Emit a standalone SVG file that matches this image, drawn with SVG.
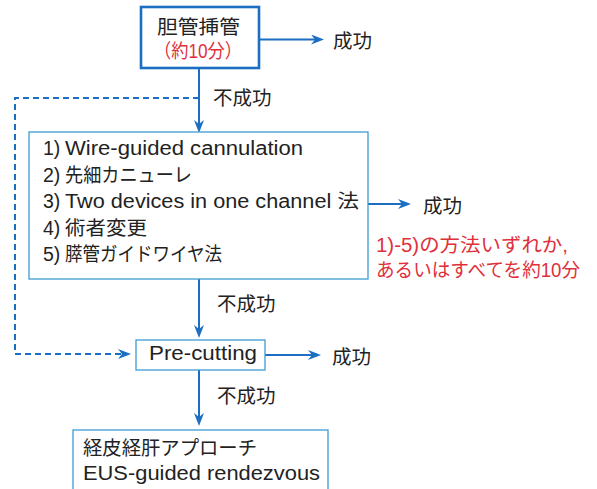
<svg xmlns="http://www.w3.org/2000/svg" width="597" height="489" viewBox="0 0 597 489">
<style>
.t{font-family:"Liberation Sans","Noto Sans CJK JP",sans-serif;fill:#222;font-size:19.5px}
.r{fill:#e0303c}
.box{fill:#fff;stroke:#3d9bd3;stroke-width:1.3}
.main{fill:#fff;stroke:#1b6ec2;stroke-width:2.6}
.ln{fill:none;stroke:#1b6ec2;stroke-width:2}
.dash{fill:none;stroke:#1b6ec2;stroke-width:2;stroke-dasharray:6 4}
</style>
<defs>
<marker id="ah" markerUnits="userSpaceOnUse" markerWidth="14" markerHeight="12" refX="8" refY="5" orient="auto">
<path d="M0,0 L13,5 L0,10 L4,5 Z" fill="#1b6ec2"/>
</marker>
</defs>
<rect width="597" height="489" fill="#fff"/>
<g id="connectors">
<path class="ln" d="M259,39.5 H319" marker-end="url(#ah)"/>
<path class="ln" d="M199,68 V128" marker-end="url(#ah)"/>
<path class="dash" d="M199,98 H15 V354 H126" marker-end="url(#ah)"/>
<path class="ln" d="M368,204 H406" marker-end="url(#ah)"/>
<path class="ln" d="M199,279 V333" marker-end="url(#ah)"/>
<path class="ln" d="M265,355 H316" marker-end="url(#ah)"/>
<path class="ln" d="M199,370 V421" marker-end="url(#ah)"/>
</g>
<g id="labels">
<text class="t" x="333" y="48" font-size="21">成功</text>
<text class="t" x="213" y="105" font-size="20">不成功</text>
<text class="t" x="423" y="213" font-size="21">成功</text>
<text class="t" x="217" y="311" font-size="20">不成功</text>
<text class="t" x="332" y="364" font-size="21">成功</text>
<text class="t" x="217" y="403" font-size="20">不成功</text>
<text class="t r" x="376" y="252" textLength="192" lengthAdjust="spacingAndGlyphs">1)-5)の方法いずれか,</text>
<text class="t r" x="376" y="277" textLength="204" lengthAdjust="spacingAndGlyphs">あるいはすべてを約10分</text>
</g>
<g id="node-start">
<rect class="main" x="141" y="7" width="118" height="61"/>
<text class="t" x="157" y="34" font-size="20.5" textLength="83" lengthAdjust="spacingAndGlyphs">胆管挿管</text>
<text class="t r" x="154" y="58" textLength="88" lengthAdjust="spacingAndGlyphs">（約10分）</text>
</g>
<g id="node-methods">
<rect class="box" x="29" y="132" width="339" height="147"/>
<text class="t" x="43" y="155">1)<tspan x="65" textLength="238" lengthAdjust="spacingAndGlyphs">Wire-guided cannulation</tspan></text>
<text class="t" x="43" y="182">2)<tspan x="65" textLength="127" lengthAdjust="spacingAndGlyphs">先細カニューレ</tspan></text>
<text class="t" x="43" y="208">3)<tspan x="65" textLength="294" lengthAdjust="spacingAndGlyphs">Two devices in one channel 法</tspan></text>
<text class="t" x="43" y="235">4)<tspan x="65" textLength="82" lengthAdjust="spacingAndGlyphs">術者変更</tspan></text>
<text class="t" x="43" y="261">5)<tspan x="65" textLength="157" lengthAdjust="spacingAndGlyphs">膵管ガイドワイヤ法</tspan></text>
</g>
<g id="node-precut">
<rect class="box" x="136" y="340" width="129" height="30"/>
<text class="t" x="149" y="360" textLength="108" lengthAdjust="spacingAndGlyphs">Pre-cutting</text>
</g>
<g id="node-final">
<rect class="box" x="73" y="430" width="255" height="70"/>
<text class="t" x="83" y="455" textLength="174" lengthAdjust="spacingAndGlyphs">経皮経肝アプローチ</text>
<text class="t" x="83" y="480" textLength="237" lengthAdjust="spacingAndGlyphs">EUS-guided rendezvous</text>
</g>
</svg>
